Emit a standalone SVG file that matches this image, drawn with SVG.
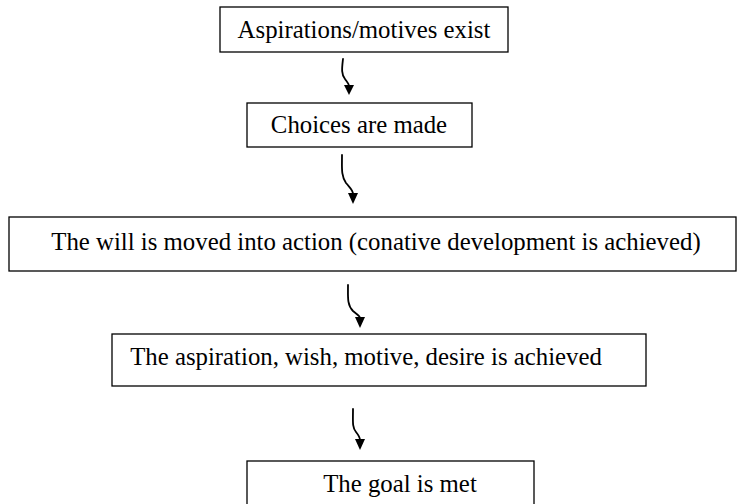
<svg xmlns="http://www.w3.org/2000/svg" width="737" height="504" viewBox="0 0 737 504">
  <style>
    .box { fill: #ffffff; stroke: #000000; stroke-width: 1.3; }
    .label { font-family: "Liberation Serif", "Times New Roman", serif; font-size: 24.8px; fill: #000000; text-anchor: middle; }
    .flow { fill: none; stroke: #000000; stroke-width: 1.8; stroke-linecap: round; }
    .head { fill: #000000; }
  </style>

  <rect width="737" height="504" fill="#ffffff"/>

  <!-- wavy flow arrows between the stages -->
  <g id="connectors">
    <path class="flow" d="M343,59 C342,68 341,74 345,79 C348,83 349,84 349,86"/>
    <polygon class="head" points="344,85 354,85 349,95"/>
    <path class="flow" d="M342,155 C342,168 341,176 346,183 C351,189 353,190 353,194"/>
    <polygon class="head" points="348,193 358,193 353,204"/>
    <path class="flow" d="M348,285 C348,297 347,305 353,311 C359,316 360,316 360,318"/>
    <polygon class="head" points="355,317 365,317 360,328"/>
    <path class="flow" d="M353,409 C353,421 352,427 356,432 C360,437 360,438 360,440"/>
    <polygon class="head" points="355,439 365,439 360,450"/>
  </g>

  <g id="node-aspirations">
    <rect class="box" x="220" y="7" width="288" height="45"/>
    <text class="label" x="364" y="38">Aspirations/motives exist</text>
  </g>

  <g id="node-choices">
    <rect class="box" x="247" y="103" width="225" height="44"/>
    <text class="label" x="359" y="133">Choices are made</text>
  </g>

  <g id="node-will">
    <rect class="box" x="9" y="217" width="727" height="54"/>
    <text class="label" x="376" y="250">The will is moved into action (conative development is achieved)</text>
  </g>

  <g id="node-achieved">
    <rect class="box" x="112" y="334" width="534" height="52"/>
    <text class="label" x="366" y="365">The aspiration, wish, motive, desire is achieved</text>
  </g>

  <g id="node-goal">
    <rect class="box" x="247" y="461" width="287" height="50"/>
    <text class="label" x="400" y="492">The goal is met</text>
  </g>
</svg>
